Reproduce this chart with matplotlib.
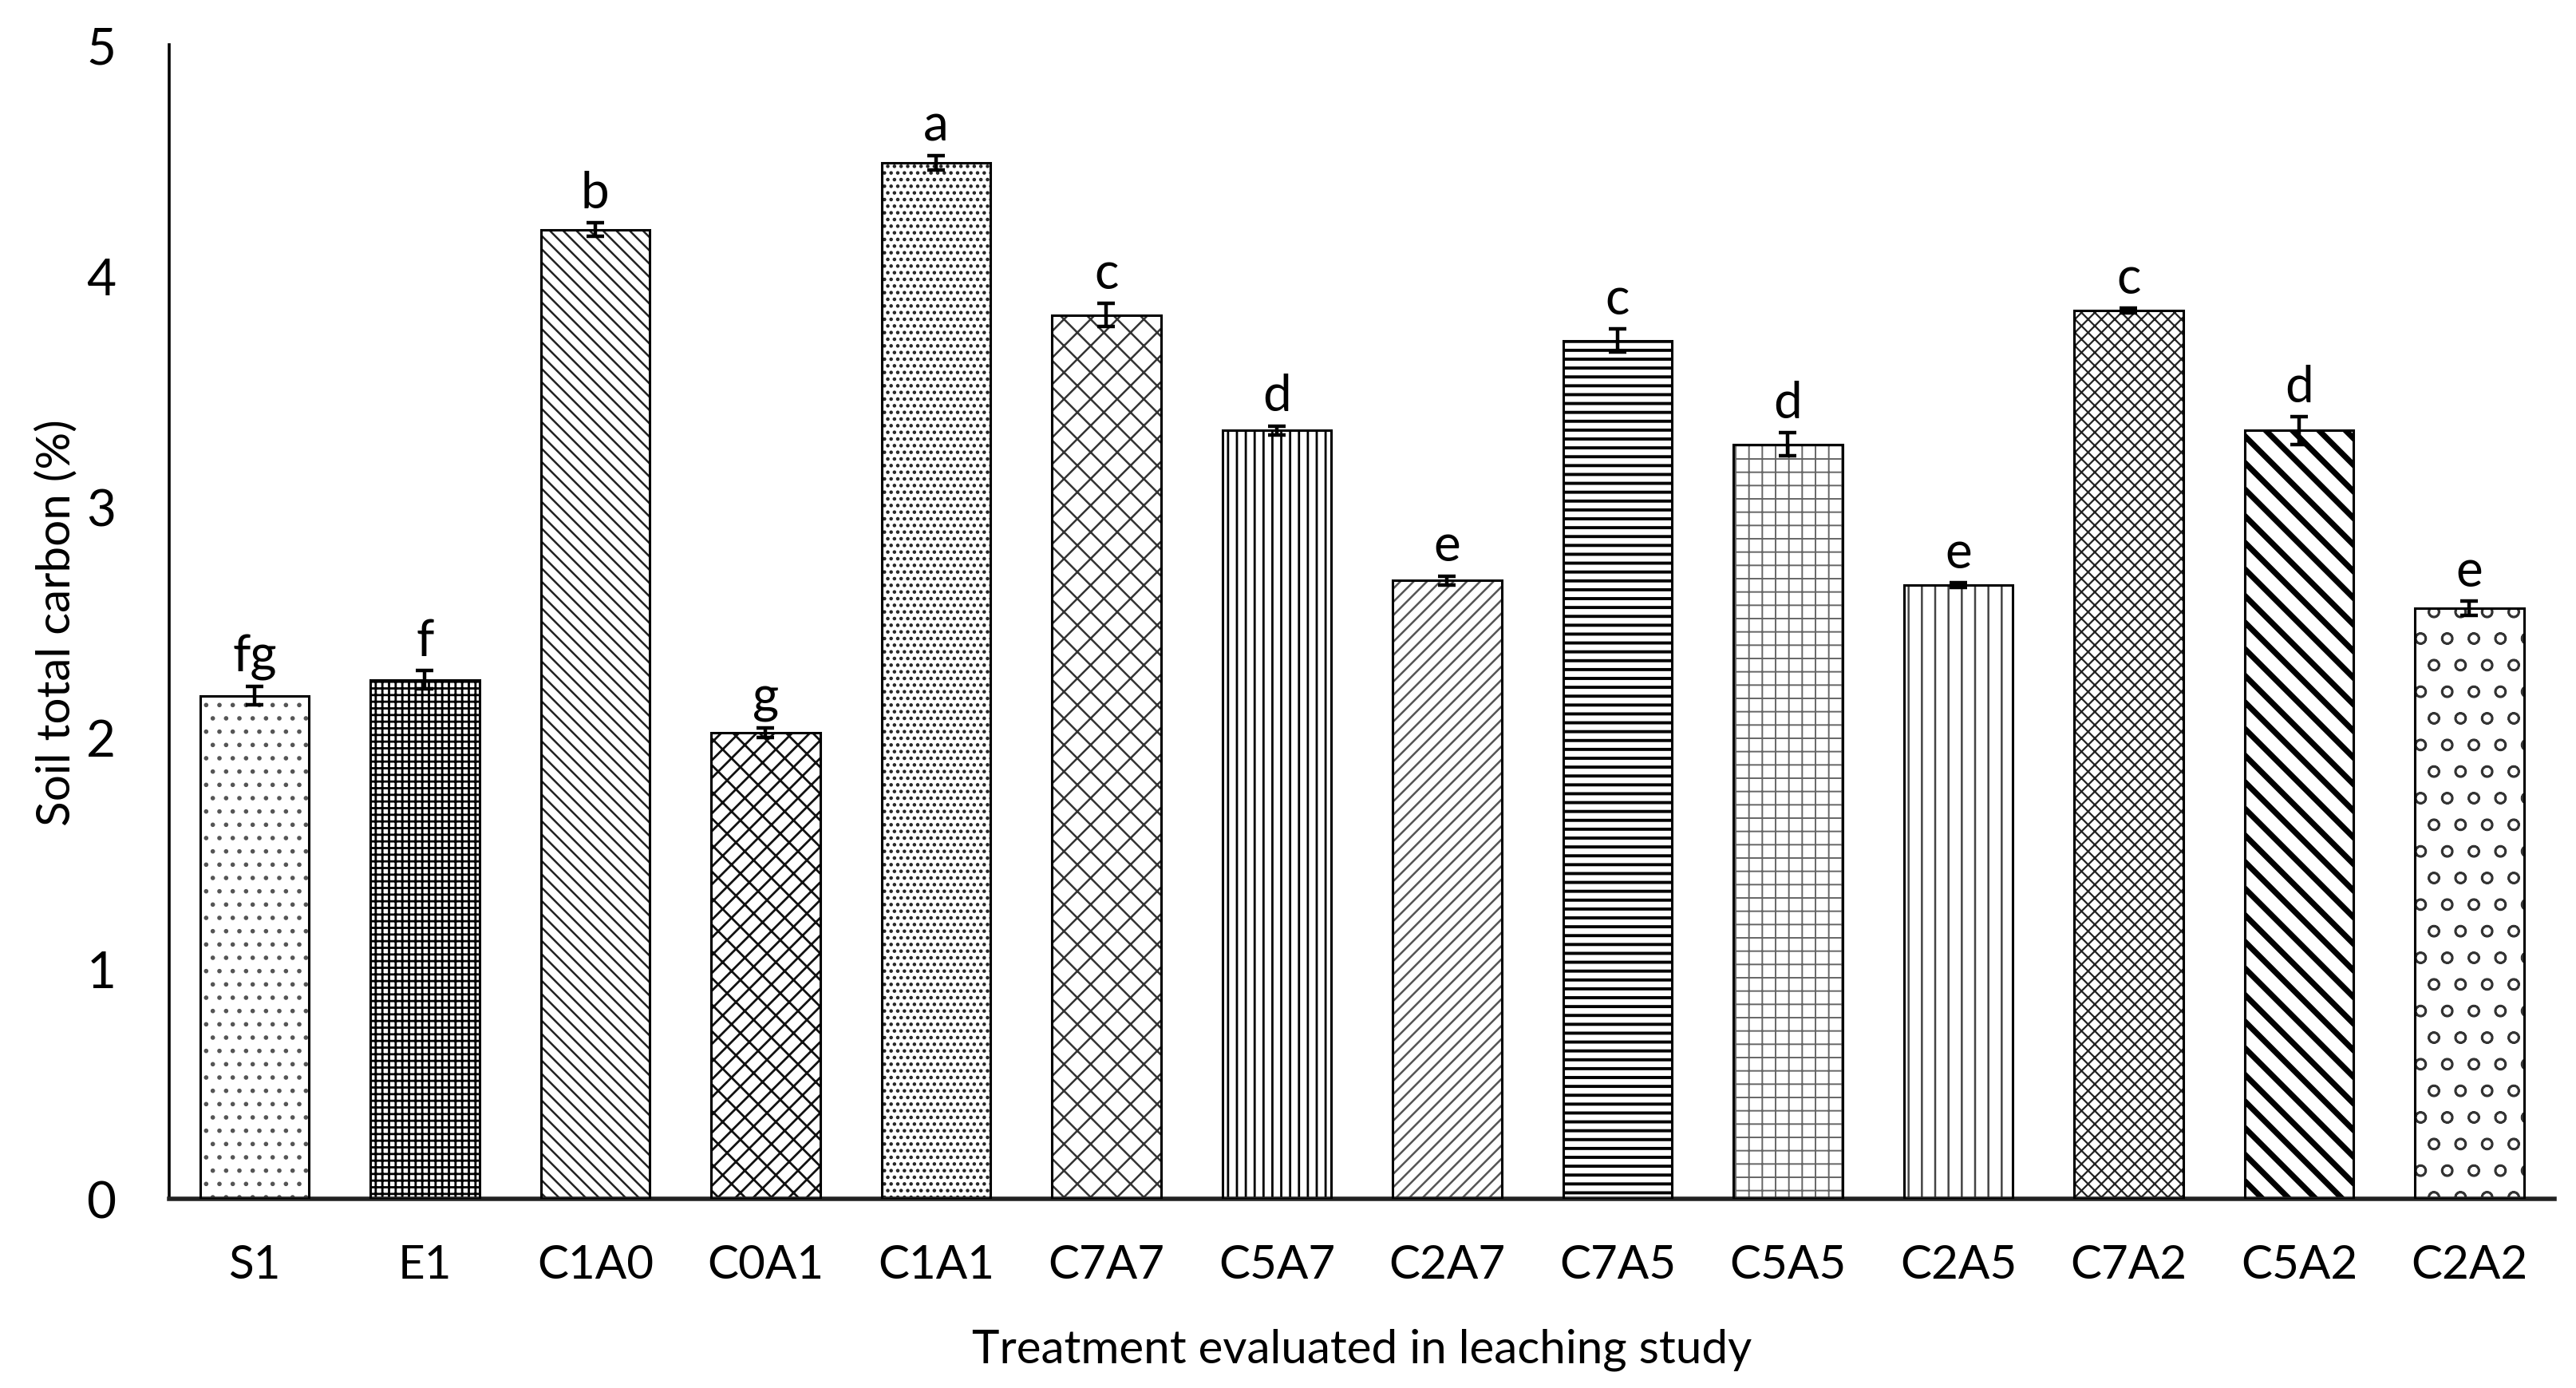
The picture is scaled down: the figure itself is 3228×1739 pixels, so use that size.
import matplotlib
matplotlib.use("Agg")
import matplotlib.pyplot as plt
import numpy as np

# ---- data ----
categories = ["S1", "E1", "C1A0", "C0A1", "C1A1", "C7A7", "C5A7", "C2A7",
              "C7A5", "C5A5", "C2A5", "C7A2", "C5A2", "C2A2"]
values = [2.18, 2.25, 4.20, 2.02, 4.49, 3.83, 3.33, 2.68,
          3.72, 3.27, 2.66, 3.85, 3.33, 2.56]
errors = [0.04, 0.04, 0.03, 0.02, 0.03, 0.05, 0.02, 0.02,
          0.05, 0.05, 0.01, 0.01, 0.06, 0.03]
letters = ["fg", "f", "b", "g", "a", "c", "d", "e", "c", "d", "e", "c", "d", "e"]
yticks = [0, 1, 2, 3, 4, 5]

# ---- styles (hatch, hatch colour, hatch linewidth) ----
hatches = ["..", "++++", "\\\\\\\\", "xx/", "....", "xx", "|||", "////",
           "---", "++", "||", "xxxx", "\\\\", "o"]
hcolors = ["#555555", "#000000", "#222222", "#111111", "#222222", "#333333", "#000000", "#555555",
           "#000000", "#666666", "#444444", "#222222", "#000000", "#333333"]
hlws = [0.8, 1.0, 0.9, 1.0, 1.0, 0.9, 1.0, 0.9,
        1.4, 0.7, 0.9, 0.8, 2.6, 0.9]

plt.rcParams['font.family'] = ['Lato', 'DejaVu Sans']

fig = plt.figure(figsize=(16.14, 8.70), dpi=200)
ax = fig.add_axes([0.0657, 0.136, 0.926, 0.831])

x = np.arange(len(categories))
width = 0.64
for i in range(len(categories)):
    plt.rcParams['hatch.linewidth'] = hlws[i]
    b = ax.bar(x[i], values[i], width=width, color="white", edgecolor=hcolors[i],
               hatch=hatches[i], linewidth=0, zorder=2)
    for p in b:
        try:
            p.set_hatch_linewidth(hlws[i])
        except AttributeError:
            pass
    ax.bar(x[i], values[i], width=width, fill=False, edgecolor="black",
           linewidth=1.1, zorder=3)

ax.errorbar(x, values, yerr=errors, fmt="none", ecolor="black",
            elinewidth=1.6, capsize=4, capthick=1.6, zorder=4)

for i in range(len(categories)):
    ax.annotate(letters[i], (x[i], values[i] + errors[i]), xytext=(0, 3),
                textcoords="offset points", ha="center", va="bottom",
                fontsize=23, color="black")

ax.set_xlim(-0.5, len(categories) - 0.5)
ax.set_ylim(0, 5)
ax.set_yticks(yticks)
ax.set_yticklabels([str(t) for t in yticks])
ax.set_xticks(x)
ax.set_xticklabels(categories)
ax.tick_params(axis="both", length=0, colors="black")
ax.tick_params(axis="x", pad=20, labelsize=21)
ax.tick_params(axis="y", pad=24, labelsize=23)

for s in ["top", "right"]:
    ax.spines[s].set_visible(False)
ax.spines["left"].set_linewidth(1.3)
ax.spines["bottom"].set_linewidth(2.0)
ax.spines["left"].set_color("black")
ax.spines["bottom"].set_color("#222222")

ax.set_xlabel("Treatment evaluated in leaching study", fontsize=21, labelpad=19)
ax.set_ylabel("Soil total carbon (%)", fontsize=21, labelpad=4)

fig.savefig("out.png", dpi=200)
